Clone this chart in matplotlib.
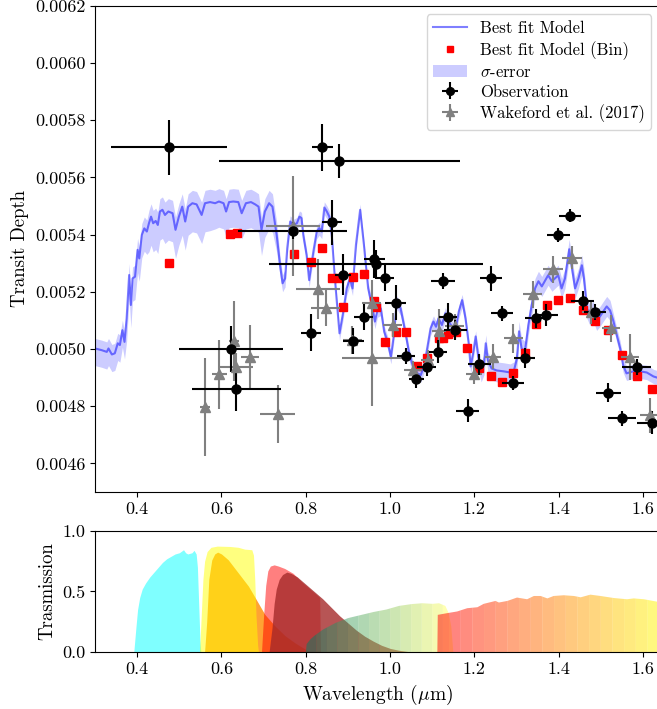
import numpy as np
import matplotlib
matplotlib.use("Agg")
import matplotlib.pyplot as plt
from matplotlib.ticker import FormatStrFormatter

plt.rcParams['font.family'] = 'serif'
plt.rcParams['font.serif'] = ['cmr10']
plt.rcParams['mathtext.fontset'] = 'cm'
plt.rcParams['axes.formatter.use_mathtext'] = True

# best fit model (wavelength in micron, transit depth)
model_wl = [0.300, 0.316, 0.328, 0.332, 0.340, 0.347, 0.354, 0.359, 0.365, 0.370,
            0.375, 0.381, 0.385, 0.389, 0.395, 0.401, 0.405, 0.411, 0.417, 0.423,
            0.428, 0.433, 0.438, 0.444, 0.449, 0.454, 0.460, 0.466, 0.474, 0.484,
            0.491, 0.499, 0.507, 0.514, 0.521, 0.531, 0.541, 0.553, 0.561, 0.573,
            0.585, 0.594, 0.605, 0.611, 0.618, 0.628, 0.640, 0.648, 0.658, 0.670,
            0.680, 0.688, 0.695, 0.703, 0.713, 0.721, 0.731, 0.739, 0.745, 0.751,
            0.756, 0.763, 0.771, 0.779, 0.785, 0.790, 0.794, 0.802, 0.808, 0.818,
            0.826, 0.832, 0.838, 0.844, 0.850, 0.856, 0.862, 0.869, 0.880, 0.889,
            0.897, 0.905, 0.911, 0.919, 0.929, 0.938, 0.948, 0.957, 0.964, 0.970,
            0.978, 0.986, 0.994, 1.002, 1.009, 1.016, 1.025, 1.036, 1.046, 1.055,
            1.065, 1.073, 1.081, 1.088, 1.096, 1.103, 1.109, 1.115, 1.123, 1.131,
            1.139, 1.147, 1.155, 1.163, 1.171, 1.179, 1.187, 1.191, 1.197, 1.203,
            1.209, 1.216, 1.223, 1.227, 1.232, 1.241, 1.253, 1.269, 1.285, 1.294,
            1.301, 1.306, 1.312, 1.320, 1.328, 1.336, 1.344, 1.352, 1.360, 1.368,
            1.375, 1.384, 1.391, 1.399, 1.407, 1.415, 1.425, 1.431, 1.439, 1.447,
            1.455, 1.460, 1.467, 1.474, 1.482, 1.490, 1.498, 1.506, 1.514, 1.522,
            1.530, 1.538, 1.546, 1.553, 1.561, 1.577, 1.593, 1.609, 1.625, 1.640]
model_depth = [0.005002, 0.004996, 0.004990, 0.005002, 0.004981, 0.004985, 0.005020, 0.005014, 0.005066, 0.005025,
               0.005107, 0.005259, 0.005154, 0.005247, 0.005253, 0.005347, 0.005317, 0.005399, 0.005422, 0.005411,
               0.005440, 0.005463, 0.005440, 0.005448, 0.005434, 0.005481, 0.005487, 0.005469, 0.005481, 0.005475,
               0.005417, 0.005463, 0.005498, 0.005446, 0.005498, 0.005510, 0.005506, 0.005469, 0.005510, 0.005514,
               0.005510, 0.005516, 0.005510, 0.005481, 0.005514, 0.005516, 0.005514, 0.005475, 0.005510, 0.005514,
               0.005506, 0.005498, 0.005417, 0.005481, 0.005510, 0.005498, 0.005399, 0.005294, 0.005230, 0.005247,
               0.005352, 0.005446, 0.005434, 0.005440, 0.005463, 0.005458, 0.005399, 0.005329, 0.005241, 0.005341,
               0.005411, 0.005423, 0.005411, 0.005495, 0.005481, 0.005463, 0.005393, 0.005247, 0.005055, 0.005131,
               0.005212, 0.005247, 0.005212, 0.005364, 0.005487, 0.005364, 0.005212, 0.005154, 0.005096, 0.005136,
               0.005142, 0.005061, 0.005026, 0.004973, 0.005049, 0.005166, 0.005142, 0.005061, 0.004979, 0.004938,
               0.004915, 0.004909, 0.004944, 0.005002, 0.005072, 0.005096, 0.005078, 0.005107, 0.005084, 0.005125,
               0.005096, 0.005078, 0.005066, 0.005131, 0.005171, 0.005107, 0.005014, 0.004939, 0.004985, 0.005044,
               0.004974, 0.004925, 0.004950, 0.005020, 0.004960, 0.004932, 0.004925, 0.004922, 0.004918, 0.004925,
               0.004967, 0.005062, 0.005002, 0.004992, 0.005083, 0.005153, 0.005212, 0.005237, 0.005219, 0.005240,
               0.005258, 0.005237, 0.005247, 0.005258, 0.005212, 0.005247, 0.005349, 0.005289, 0.005212, 0.005247,
               0.005293, 0.005247, 0.005142, 0.005118, 0.005132, 0.005100, 0.005114, 0.005132, 0.005149, 0.005135,
               0.005097, 0.005048, 0.005002, 0.004943, 0.004915, 0.004922, 0.004922, 0.004918, 0.004904, 0.004897]
# sigma band above / below the model, in units of 1e-5
sigma_up = [3.5, 3.5, 3.5, 3.5, 3.5, 3.5, 3.5, 3.5, 3.5, 3.5,
            4, 4, 4, 4, 4, 4, 4, 4, 4, 4,
            4.5, 4.5, 4.5, 4.5, 4.5, 4.5, 4.5, 4.5, 4.5, 4.5,
            4.5, 4.5, 4.5, 4.5, 4.5, 4.5, 4.5, 4.5, 4.5, 4.5,
            4.5, 4.5, 4.5, 4.5, 4.5, 4.5, 4.5, 4.5, 4.5, 4.5,
            4.5, 4.5, 4.5, 4.5, 4.5, 4.5, 4.5, 3, 3, 3,
            2, 2, 2, 2, 2, 2, 2, 2, 2, 2,
            2, 2, 2, 2, 2, 2, 2, 2, 2, 2,
            2, 2, 2, 2, 2, 2, 2, 2, 2, 2,
            2, 2, 2, 2, 2, 2, 2, 2, 2, 2,
            2, 2, 2, 2, 2, 2, 2, 2, 2, 2,
            2, 2, 2, 2, 2, 2, 2, 2, 2, 2,
            3, 3, 3, 3, 3, 3, 3, 3, 3, 3,
            3.5, 3.5, 3.5, 3.5, 3.5, 3.5, 3.5, 3.5, 3.5, 3.5,
            3.5, 3.5, 3.5, 3.5, 3.5, 3.5, 3.5, 3.5, 3.5, 3.5,
            3.5, 3.5, 3.5, 3.5, 3.5, 3.5, 3.5, 3.5, 3.5, 3.5,
            2.5, 2.5, 2.5, 2.5, 2.5, 2.5, 2.5, 2.5, 2.5, 2.5]
sigma_lo = [6, 6, 6, 6, 6, 6, 6, 6, 6, 6,
            8, 8, 8, 8, 8, 8, 8, 8, 8, 8,
            10, 10, 10, 10, 10, 10, 10, 10, 10, 10,
            10, 10, 10, 10, 10, 10, 10, 10, 10, 10,
            9, 9, 9, 9, 9, 9, 9, 9, 9, 9,
            9, 9, 9, 9, 9, 9, 6, 4, 3, 3,
            2.5, 2.5, 2.5, 2.5, 2.5, 2.5, 2.5, 2.5, 2.5, 2.5,
            2.5, 2.5, 2.5, 2.5, 2.5, 2.5, 2.5, 2.5, 2.5, 2.5,
            2.5, 2.5, 2.5, 2.5, 2.5, 2.5, 2.5, 2.5, 2.5, 2.5,
            2.5, 2.5, 2.5, 2.5, 2.5, 2.5, 2.5, 2.5, 2.5, 2.5,
            2.5, 2.5, 2.5, 2.5, 2.5, 2.5, 2.5, 2.5, 2.5, 2.5,
            2.5, 2.5, 2.5, 2.5, 2.5, 2.5, 2.5, 2.5, 2.5, 2.5,
            4, 4, 4, 4, 4, 4, 4, 4, 4, 4,
            3.5, 3.5, 3.5, 3.5, 3.5, 3.5, 3.5, 3.5, 3.5, 3.5,
            3.5, 3.5, 3.5, 3.5, 3.5, 3.5, 3.5, 3.5, 3.5, 3.5,
            3.5, 3.5, 3.5, 3.5, 3.5, 3.5, 3.5, 3.5, 3.5, 3.5,
            2.5, 2.5, 2.5, 2.5, 2.5, 2.5, 2.5, 2.5, 2.5, 2.5]

# binned model
bin_wl = [0.476, 0.620, 0.636, 0.771, 0.813, 0.838, 0.863, 0.880, 0.888, 0.913,
          0.938, 0.963, 0.967, 0.988, 1.014, 1.038, 1.063, 1.087, 1.115, 1.126,
          1.138, 1.156, 1.183, 1.212, 1.239, 1.265, 1.291, 1.319, 1.346, 1.372,
          1.399, 1.427, 1.457, 1.486, 1.518, 1.550, 1.585, 1.622]
bin_depth = [0.005300, 0.005402, 0.005405, 0.005331, 0.005306, 0.005355, 0.005250, 0.005250, 0.005148, 0.005251,
             0.005264, 0.005168, 0.005148, 0.005026, 0.005058, 0.005061, 0.004940, 0.004967, 0.005040, 0.005040,
             0.005051, 0.005058, 0.005005, 0.004932, 0.004906, 0.004886, 0.004917, 0.004987, 0.005086, 0.005154,
             0.005171, 0.005180, 0.005136, 0.005098, 0.005066, 0.004979, 0.004905, 0.004860]

# observations
obs_wl = [0.476, 0.622, 0.635, 0.769, 0.8125, 0.839, 0.863, 0.880, 0.888, 0.913,
          0.938, 0.963, 0.967, 0.988, 1.013, 1.038, 1.062, 1.087, 1.114, 1.125,
          1.138, 1.155, 1.184, 1.212, 1.239, 1.265, 1.291, 1.319, 1.346, 1.370,
          1.399, 1.427, 1.457, 1.486, 1.518, 1.550, 1.585, 1.622]
obs_depth = [0.005705, 0.004999, 0.004859, 0.005414, 0.005057, 0.005705, 0.005443, 0.005658, 0.005260, 0.005028,
             0.005112, 0.005315, 0.005296, 0.005250, 0.005162, 0.004975, 0.004894, 0.004936, 0.004991, 0.005238,
             0.005113, 0.005068, 0.004784, 0.004946, 0.005247, 0.005125, 0.004880, 0.004967, 0.005107, 0.005119,
             0.005399, 0.005467, 0.005169, 0.005128, 0.004847, 0.004758, 0.004937, 0.004743]
obs_xerr = [0.138, 0.123, 0.106, 0.129, 0.0245, 0.025, 0.024, 0.287, 0.019, 0.024,
            0.0225, 0.024, 0.254, 0.022, 0.024, 0.022, 0.018, 0.022, 0.022, 0.028,
            0.021, 0.028, 0.027, 0.027, 0.026, 0.026, 0.026, 0.026, 0.025, 0.028,
            0.027, 0.027, 0.027, 0.027, 0.030, 0.033, 0.035, 0.036]
obs_yerr = [0.000095, 0.000080, 0.000076, 0.000030, 0.000064, 0.000083, 0.000079, 0.000059, 0.000071, 0.000044,
            0.000045, 0.000067, 0.000050, 0.000047, 0.000062, 0.000029, 0.000030, 0.000030, 0.000041, 0.000028,
            0.000048, 0.000035, 0.000040, 0.000038, 0.000043, 0.000027, 0.000025, 0.000035, 0.000033, 0.000038,
            0.000026, 0.000023, 0.000033, 0.000028, 0.000033, 0.000026, 0.000029, 0.000041]

# Wakeford et al. (2017)
wak_wl = [0.561, 0.595, 0.6305, 0.6345, 0.668, 0.733, 0.769, 0.830, 0.847, 0.9105,
          0.9565, 0.9565, 1.006, 1.054, 1.089, 1.116, 1.153, 1.199, 1.245, 1.2925,
          1.338, 1.386, 1.431, 1.476, 1.5235, 1.569, 1.617]
wak_depth = [0.004798, 0.004911, 0.005029, 0.004937, 0.004973, 0.004773, 0.005430, 0.005210, 0.005145, 0.005031,
             0.005161, 0.004970, 0.005084, 0.004926, 0.004961, 0.005062, 0.005080, 0.004911, 0.004973, 0.005037,
             0.005191, 0.005279, 0.005320, 0.005131, 0.005072, 0.004972, 0.004769]
wak_xerr = [0.013, 0.018, 0.012, 0.040, 0.021, 0.041, 0.064, 0.052, 0.034, 0.022,
            0.022, 0.071, 0.023, 0.022, 0.015, 0.017, 0.022, 0.020, 0.019, 0.022,
            0.022, 0.024, 0.024, 0.020, 0.021, 0.022, 0.024]
wak_yerr = [0.000172, 0.000120, 0.000140, 0.000050, 0.000111, 0.000101, 0.000175, 0.000105, 0.000064, 0.000050,
            0.000080, 0.000171, 0.000041, 0.000032, 0.000035, 0.000077, 0.000044, 0.000035, 0.000044, 0.000051,
            0.000047, 0.000047, 0.000041, 0.000042, 0.000048, 0.000079, 0.000061]

# filter transmission curves
cyan_wl = [0.392, 0.397, 0.401, 0.406, 0.412, 0.420, 0.430, 0.440, 0.450, 0.460, 0.470, 0.480,
           0.490, 0.500, 0.510, 0.515, 0.520, 0.530, 0.535, 0.540, 0.543, 0.546, 0.549, 0.551]
cyan_tr = [0.0, 0.20, 0.35, 0.45, 0.52, 0.57, 0.62, 0.66, 0.70, 0.74, 0.77, 0.79,
           0.81, 0.82, 0.845, 0.82, 0.81, 0.82, 0.84, 0.81, 0.70, 0.40, 0.10, 0.0]
yellow_wl = [0.548, 0.552, 0.556, 0.560, 0.566, 0.575, 0.590, 0.620, 0.640, 0.655, 0.672, 0.676,
             0.679, 0.682, 0.686, 0.688]
yellow_tr = [0.0, 0.30, 0.60, 0.75, 0.83, 0.865, 0.875, 0.872, 0.865, 0.85, 0.845, 0.80,
             0.60, 0.30, 0.05, 0.0]
orange_wl = [0.560, 0.565, 0.570, 0.577, 0.584, 0.591, 0.600, 0.616, 0.640, 0.664, 0.680, 0.703,
             0.727, 0.751, 0.775, 0.798, 0.812]
orange_tr = [0.0, 0.25, 0.60, 0.76, 0.81, 0.825, 0.81, 0.762, 0.653, 0.544, 0.449, 0.31,
             0.215, 0.134, 0.074, 0.025, 0.0]
red_wl = [0.695, 0.700, 0.705, 0.710, 0.716, 0.725, 0.735, 0.750, 0.770, 0.790, 0.810, 0.830,
          0.833, 0.835]
red_tr = [0.0, 0.30, 0.55, 0.67, 0.71, 0.72, 0.71, 0.69, 0.65, 0.58, 0.52, 0.46,
          0.45, 0.0]
brown_wl = [0.713, 0.720, 0.725, 0.730, 0.737, 0.745, 0.755, 0.765, 0.780, 0.800, 0.820, 0.840,
            0.860, 0.880, 0.900, 0.920, 0.940, 0.960, 0.980, 1.000, 1.020, 1.050]
brown_tr = [0.0, 0.20, 0.40, 0.52, 0.60, 0.64, 0.66, 0.65, 0.62, 0.56, 0.50, 0.44,
            0.37, 0.30, 0.24, 0.18, 0.13, 0.09, 0.055, 0.03, 0.015, 0.0]
green_wl = [0.799, 0.801, 0.810, 0.820, 0.840, 0.870, 0.900, 0.930, 0.960, 0.990, 1.020, 1.050,
            1.075, 1.100, 1.115, 1.130, 1.138, 1.144, 1.149]
green_tr = [0.0, 0.07, 0.11, 0.14, 0.19, 0.245, 0.285, 0.31, 0.335, 0.355, 0.385, 0.40,
            0.407, 0.402, 0.407, 0.385, 0.325, 0.215, 0.0]
ir_wl = [1.111, 1.112, 1.134, 1.158, 1.182, 1.206, 1.221, 1.249, 1.257, 1.277, 1.300, 1.324,
         1.340, 1.356, 1.372, 1.387, 1.411, 1.435, 1.451, 1.474, 1.498, 1.530, 1.561, 1.577,
         1.601, 1.640]
ir_tr = [0.0, 0.311, 0.325, 0.339, 0.366, 0.374, 0.402, 0.426, 0.413, 0.426, 0.454, 0.44,
         0.467, 0.467, 0.447, 0.467, 0.473, 0.467, 0.456, 0.478, 0.467, 0.45, 0.44, 0.447,
         0.44, 0.415]


def gradient_fill(ax, wl, tr, step, cmap, alpha):
    wl = np.asarray(wl)
    tr = np.asarray(tr)
    edges = np.arange(wl[0], wl[-1] + step, step)
    edges[-1] = min(edges[-1], wl[-1])
    n = len(edges) - 1
    for i in range(n):
        lo, hi = edges[i], edges[i + 1]
        m = (wl > lo) & (wl < hi)
        xs = np.concatenate([[lo], wl[m], [hi]])
        ys = np.interp(xs, wl, tr)
        ax.fill_between(xs, 0, ys, color=cmap(i / max(n - 1, 1)), alpha=alpha, lw=0)


fig = plt.figure(figsize=(6.57, 7.09), dpi=100)
ax = fig.add_axes([0.1446, 0.3061, 0.8597, 0.6855])
ax2 = fig.add_axes([0.1446, 0.0804, 0.8597, 0.1707])

mw = np.array(model_wl)
md = np.array(model_depth)
band = ax.fill_between(mw, md - np.array(sigma_lo) * 1e-5, md + np.array(sigma_up) * 1e-5,
                       color='blue', alpha=0.2, lw=0, label=r'$\sigma$-error')
line, = ax.plot(mw, md, color='blue', alpha=0.5, lw=1.5, label='Best fit Model')
sq, = ax.plot(bin_wl, bin_depth, 's', color='red', ms=5.5, ls='none', label='Best fit Model (Bin)')
wak = ax.errorbar(wak_wl, wak_depth, xerr=wak_xerr, yerr=wak_yerr, fmt='^', color='grey',
                  ms=7, elinewidth=1.5, capsize=0, label='Wakeford et al. (2017)')
obs = ax.errorbar(obs_wl, obs_depth, xerr=obs_xerr, yerr=obs_yerr, fmt='o', color='black',
                  ms=6.5, elinewidth=1.5, capsize=0, label='Observation')

ax.set_xlim(0.3, 1.64)
ax.set_ylim(0.0045, 0.0062)
ax.set_xticks([0.4, 0.6, 0.8, 1.0, 1.2, 1.4, 1.6])
ax.set_yticks(np.arange(0.0046, 0.00621, 0.0002))
ax.xaxis.set_major_formatter(FormatStrFormatter('%.1f'))
ax.yaxis.set_major_formatter(FormatStrFormatter('%.4f'))
ax.tick_params(labelsize=13)
ax.set_ylabel('Transit Depth', fontsize=13.5)
ax.legend([line, sq, band, obs, wak],
          ['Best fit Model', 'Best fit Model (Bin)', r'$\sigma$-error', 'Observation', 'Wakeford et al. (2017)'],
          loc='upper right', fontsize=12, labelspacing=0.28, borderpad=0.4, markerscale=0.85)

ax2.fill_between(orange_wl, 0, orange_tr, color='darkorange', alpha=0.8, lw=0)
ax2.fill_between(cyan_wl, 0, cyan_tr, color='cyan', alpha=0.5, lw=0)
ax2.fill_between(yellow_wl, 0, yellow_tr, color='yellow', alpha=0.5, lw=0)
ax2.fill_between(red_wl, 0, red_tr, color='red', alpha=0.5, lw=0)
ax2.fill_between(brown_wl, 0, brown_tr, color='brown', alpha=0.8, lw=0)
gradient_fill(ax2, green_wl, green_tr, 0.025, plt.get_cmap('summer'), 0.5)
gradient_fill(ax2, ir_wl, ir_tr, 0.0277, plt.get_cmap('autumn'), 0.5)

ax2.set_xlim(0.3, 1.64)
ax2.set_ylim(0, 1.0)
ax2.set_xticks([0.4, 0.6, 0.8, 1.0, 1.2, 1.4, 1.6])
ax2.set_yticks([0.0, 0.5, 1.0])
ax2.xaxis.set_major_formatter(FormatStrFormatter('%.1f'))
ax2.yaxis.set_major_formatter(FormatStrFormatter('%.1f'))
ax2.tick_params(labelsize=13)
ax2.set_ylabel('Trasmission', fontsize=13.5)
ax2.set_xlabel(r'Wavelength ($\mu$m)', fontsize=14)

fig.savefig('out.png', dpi=100)
